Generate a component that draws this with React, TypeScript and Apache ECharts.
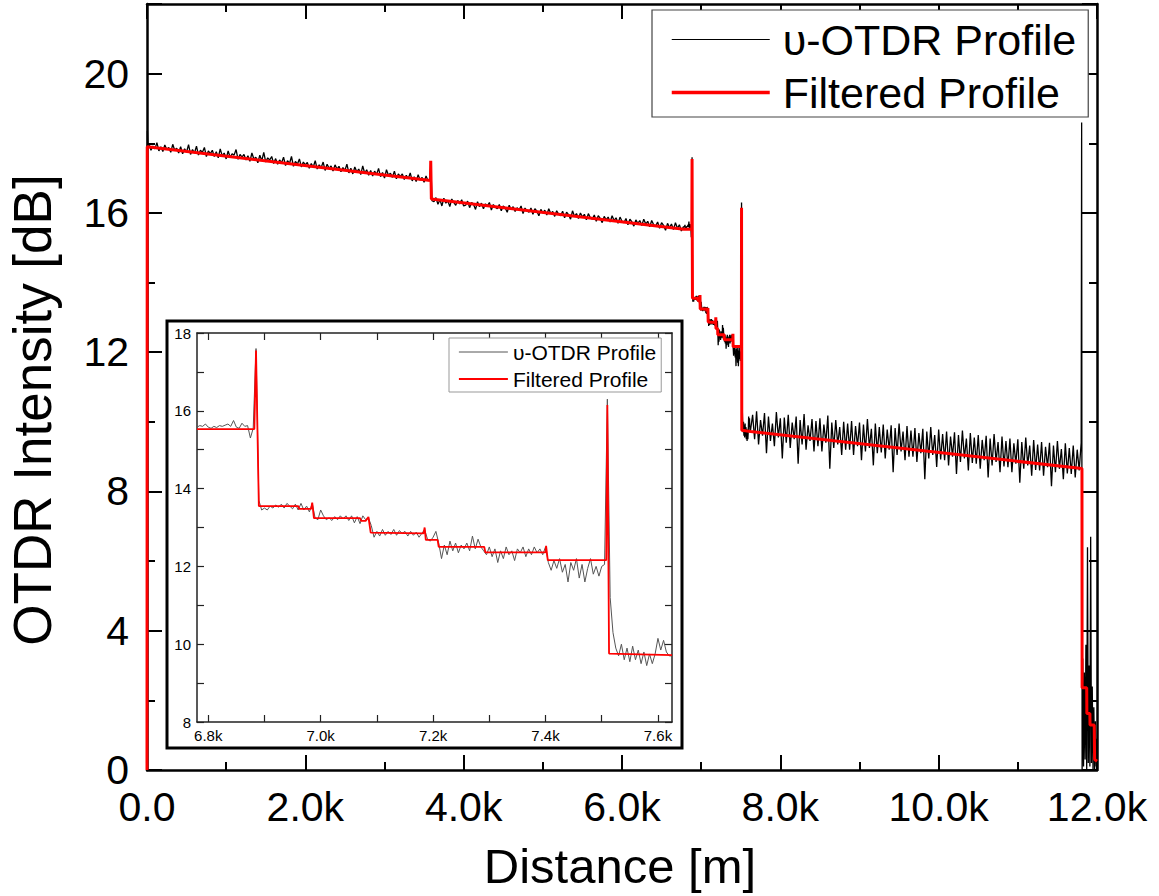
import React, { useEffect, useRef } from 'react';
import * as echarts from 'echarts';

// ---------- Data ----------
// Main trace, segment A: start 25 m, step 25 m
const SEG_A_START = 25;
const SEG_A_STEP = 25;
const SEG_A_VALUES = [
  17.98, 17.80, 17.92, 17.84, 18.02, 17.78, 17.90, 17.76, 17.95, 17.82, 17.88, 17.74, 17.97, 17.80, 17.86, 17.72,
  17.90, 17.70, 17.84, 17.75, 17.96, 17.68, 17.82, 17.72, 17.92, 17.66, 17.80, 17.74, 17.88, 17.62, 17.78, 17.70,
  17.80, 17.62, 17.76, 17.58, 17.84, 17.64, 17.72, 17.55, 17.78, 17.60, 17.70, 17.66, 17.82, 17.54, 17.68, 17.60,
  17.68, 17.52, 17.64, 17.48, 17.72, 17.55, 17.60, 17.44, 17.66, 17.50, 17.74, 17.46, 17.58, 17.52, 17.62, 17.42,
  17.56, 17.40, 17.52, 17.44, 17.60, 17.36, 17.50, 17.42, 17.62, 17.34, 17.48, 17.40, 17.55, 17.32, 17.46, 17.38,
  17.45, 17.28, 17.42, 17.32, 17.50, 17.26, 17.38, 17.30, 17.46, 17.22, 17.40, 17.28, 17.35, 17.20, 17.38, 17.26,
  17.34, 17.18, 17.30, 17.22, 17.40, 17.15, 17.28, 17.12, 17.32, 17.18, 17.26, 17.10, 17.35, 17.14, 17.24, 17.08,
  17.22, 17.06, 17.20, 17.10, 17.28, 17.04, 17.16, 17.00, 17.24, 17.08, 17.14, 17.02, 17.20, 16.98, 17.12, 17.04,
  17.12, 16.96, 17.08, 16.98, 17.15, 16.92, 17.04, 16.90, 17.10, 16.94, 17.02, 16.88, 17.06, 16.92, 16.98,
];
// Segment B: start 3625 m, step 25 m
const SEG_B_START = 3625;
const SEG_B_STEP = 25;
const SEG_B_VALUES = [
  16.32, 16.44, 16.25, 16.38, 16.20, 16.42, 16.28, 16.35, 16.18, 16.40, 16.30, 16.22, 16.36, 16.26, 16.38, 16.20,
  16.22, 16.34, 16.15, 16.30, 16.24, 16.10, 16.32, 16.18, 16.28, 16.12, 16.26, 16.20, 16.30, 16.08, 16.24, 16.16,
  16.12, 16.24, 16.06, 16.20, 16.14, 16.02, 16.22, 16.10, 16.18, 16.04, 16.15, 16.08, 16.20, 15.98, 16.14, 16.06,
  16.02, 16.14, 15.96, 16.12, 16.05, 15.92, 16.10, 16.00, 16.08, 15.94, 16.12, 15.98, 16.04, 15.90, 16.06, 15.96,
  15.92, 16.05, 15.86, 16.02, 15.95, 15.82, 16.06, 15.90, 15.98, 15.84, 16.00, 15.88, 15.96, 15.80, 15.98, 15.86,
  15.82, 15.94, 15.76, 15.92, 15.84, 15.72, 15.90, 15.80, 15.88, 15.74, 15.92, 15.78, 15.86, 15.70, 15.88, 15.76,
  15.72, 15.84, 15.66, 15.82, 15.74, 15.62, 15.80, 15.70, 15.78, 15.64, 15.82, 15.68, 15.76, 15.60, 15.78, 15.66,
  15.62, 15.74, 15.56, 15.72, 15.64, 15.50, 15.70, 15.58, 15.68, 15.52, 15.72, 15.56, 15.66, 15.48, 15.60,
];
// Detailed section (also shown in the inset): start 6780 m, step 5 m
const DETAIL_START = 6780;
const DETAIL_STEP = 5;
const DETAIL_VALUES = [
  15.58, 15.62, 15.60, 15.66, 15.58, 15.55, 15.60, 15.57, 15.62, 15.60,
  15.63, 15.66, 15.60, 15.75, 15.58, 15.55, 15.68, 15.60, 15.62, 15.30,
  15.55, 17.60, 13.70, 13.45, 13.50, 13.45, 13.55, 13.50, 13.58, 13.52,
  13.60, 13.50, 13.62, 13.55, 13.48, 13.60, 13.45, 13.62, 13.45, 13.55,
  13.40, 13.62, 13.25, 13.20, 13.45, 13.30, 13.20, 13.25, 13.18, 13.28,
  13.20, 13.30, 13.22, 13.30, 13.18, 13.30, 13.12, 13.28, 13.10, 13.30,
  13.20, 13.25, 13.05, 12.75, 12.90, 12.78, 12.95, 12.80, 12.90, 12.82,
  12.95, 12.80, 12.92, 12.85, 12.90, 12.78, 12.90, 12.80, 12.88, 12.75,
  12.85, 12.95, 12.70, 12.65, 12.75, 12.90, 12.60, 12.20, 12.55, 12.30,
  12.65, 12.40, 12.60, 12.35, 12.55, 12.45, 12.60, 12.40, 12.78, 12.45,
  12.70, 12.50, 12.40, 12.30, 12.50, 12.25, 12.45, 12.10, 12.40, 12.20,
  12.50, 12.30, 12.40, 12.15, 12.45, 12.35, 12.50, 12.25, 12.45, 12.30,
  12.50, 12.35, 12.45, 12.30, 12.50, 12.10, 11.90, 12.15, 11.95, 12.20,
  11.85, 12.05, 11.60, 12.10, 11.90, 12.20, 11.70, 12.05, 11.60, 11.95,
  12.20, 11.80, 12.00, 11.75, 12.00, 12.05, 16.30, 11.20, 10.30, 9.90,
  9.70, 10.00, 9.60, 9.90, 9.55, 9.95, 9.60, 9.85, 9.50, 9.80,
  9.45, 9.75, 9.50, 9.75, 10.15, 9.85, 10.10, 9.80, 9.70, 9.70,
];
// Segment D: start 7650 m, step 25 m
const SEG_D_START = 7650;
const SEG_D_STEP = 25;
const SEG_D_VALUES = [
  10.20, 9.50, 10.30, 9.35, 10.05, 9.60, 10.25, 9.10, 10.15, 9.45, 9.95, 9.30, 10.28, 9.55, 10.10, 8.95,
  10.12, 9.40, 10.20, 9.25, 9.98, 9.50, 10.15, 8.80, 10.05, 9.35, 10.22, 9.20, 9.90, 9.45, 10.08, 9.15,
  10.02, 9.30, 10.10, 9.15, 9.92, 9.40, 10.18, 8.65, 9.98, 9.25, 10.05, 9.35, 9.85, 9.05, 10.00, 9.20,
  9.95, 9.20, 10.02, 9.05, 9.88, 9.30, 9.98, 8.90, 9.92, 9.15, 10.08, 9.25, 9.80, 8.75, 9.95, 9.10,
  9.85, 9.12, 9.92, 8.95, 9.78, 9.20, 9.90, 8.55, 9.82, 9.05, 9.95, 9.15, 9.72, 8.90, 9.88, 9.00,
  9.75, 9.00, 9.82, 8.85, 9.68, 9.10, 9.80, 8.35, 9.72, 8.95, 9.85, 9.05, 9.62, 8.70, 9.78, 8.92,
  9.65, 8.90, 9.72, 8.75, 9.58, 9.00, 9.70, 8.50, 9.62, 8.85, 9.75, 8.95, 9.52, 8.60, 9.68, 8.82,
  9.55, 8.80, 9.62, 8.65, 9.48, 8.90, 9.60, 8.40, 9.52, 8.75, 9.65, 8.85, 9.42, 8.55, 9.58, 8.72,
  9.45, 8.70, 9.52, 8.55, 9.38, 8.80, 9.50, 8.25, 9.42, 8.65, 9.55, 8.75, 9.32, 8.45, 9.48, 8.62,
  9.35, 8.60, 9.42, 8.45, 9.28, 8.70, 9.40, 8.15, 9.32, 8.55, 9.45, 8.65, 9.22, 8.35, 9.38, 8.52,
  9.25, 8.50, 9.32, 8.40, 9.20, 8.60, 9.40,
];
// Fiber end: start 11820 m, step 10 m
const TAIL_START = 11820;
const TAIL_STEP = 10;
const TAIL_VALUES = [3.2, 0.1, 2.8, 0.3, 3.6, 0.0, 6.4, 0.2, 3.0, 0.1, 6.7, 0.2, 2.4, 0.0, 1.8, 0.0, 1.4, 0.1, 0.9];

const BLACK_HEAD: [number, number][] = [[0, 0], [5, 18.35], [12, 17.95]];
const BLACK_EVENT_1: [number, number][] = [[3585, 17.45], [3600, 16.35]];
const BLACK_EVENT_END: [number, number][] = [[11806, 18.6], [11812, 0]];

// Filtered (red) profile breakpoints
const FILTERED_HEAD: [number, number][] = [[0, 0], [3, 17.9], [3580, 16.93], [3584, 17.5], [3592, 16.4]];
const FILTERED_DETAIL: [number, number][] = [
  [6780, 15.53], [6882, 15.53], [6885, 17.55], [6890, 13.55], [6960, 13.55], [6962, 13.48],
  [6983, 13.48], [6985, 13.64], [6988, 13.24], [7070, 13.24], [7072, 13.17], [7080, 13.17],
  [7085, 13.27], [7089, 12.87], [7183, 12.85], [7185, 13.0], [7187, 12.68], [7208, 12.68],
  [7210, 12.5], [7291, 12.5], [7293, 12.36], [7400, 12.36], [7401, 12.53], [7404, 12.16],
  [7508, 12.16], [7510, 16.15], [7513, 9.76], [7625, 9.72],
];
const FILTERED_TAIL: [number, number][] = [
  [10350, 9.03], [11810, 8.66], [11812, 2.36], [11870, 2.36], [11872, 1.62], [11910, 1.62],
  [11912, 1.29], [11965, 1.29], [11970, 0.3], [12000, 0.25],
];

const INSET_X_TICKS = [6800, 6900, 7000, 7100, 7200, 7300, 7400, 7500, 7600];
const INSET_X_LABELS = [6800, 7000, 7200, 7400, 7600];

const NAME_RAW = 'υ-OTDR Profile';
const NAME_FILT = 'Filtered Profile';

const expand = (start: number, step: number, values: number[]): [number, number][] =>
  values.map((v, i) => [start + i * step, v]);

const detailBlack = expand(DETAIL_START, DETAIL_STEP, DETAIL_VALUES);
const mainBlack: [number, number][] = [
  ...BLACK_HEAD,
  ...expand(SEG_A_START, SEG_A_STEP, SEG_A_VALUES),
  ...BLACK_EVENT_1,
  ...expand(SEG_B_START, SEG_B_STEP, SEG_B_VALUES),
  ...detailBlack,
  ...expand(SEG_D_START, SEG_D_STEP, SEG_D_VALUES),
  ...BLACK_EVENT_END,
  ...expand(TAIL_START, TAIL_STEP, TAIL_VALUES),
];
const mainRed: [number, number][] = [...FILTERED_HEAD, ...FILTERED_DETAIL, ...FILTERED_TAIL];

const FONT = "'Liberation Sans', Arial, Helvetica, sans-serif";

const kFmt = (v: number) => (v === 0 ? '0.0' : (v / 1000).toFixed(1) + 'k');

export default function App() {
  const ref = useRef<HTMLDivElement>(null);
  useEffect(() => {
    if (!ref.current) return;
    const chart = echarts.init(ref.current, undefined, { renderer: 'svg' });
    const mainTick = { inside: true, length: 15, lineStyle: { color: '#000', width: 2 } };
    const mainMinor = { show: true, splitNumber: 2, length: 8, lineStyle: { color: '#000', width: 2 } };
    const mainLine = { onZero: false, lineStyle: { color: '#000', width: 2.5 } };
    const insetLine = { onZero: false, lineStyle: { color: '#222', width: 1.5 } };
    const insetTick = { inside: true, length: 7, lineStyle: { color: '#222', width: 1.2 } };
    const hiddenSymbol = { opacity: 0 };
    const option: any = {
      animation: false,
      backgroundColor: '#fff',
      grid: [
        { left: 147, top: 4, width: 950, height: 766 },
        { left: 197, top: 333, width: 475, height: 389 },
      ],
      xAxis: [
        {
          gridIndex: 0, type: 'value', min: 0, max: 12000, interval: 2000, position: 'bottom',
          axisLine: mainLine, axisTick: mainTick, minorTick: mainMinor,
          splitLine: { show: false },
          axisLabel: { fontSize: 41, fontFamily: FONT, color: '#000', margin: 16, formatter: kFmt },
        },
        {
          gridIndex: 0, type: 'value', min: 0, max: 12000, interval: 2000, position: 'top',
          axisLine: mainLine, axisTick: mainTick, minorTick: mainMinor,
          splitLine: { show: false }, axisLabel: { show: false },
        },
        {
          gridIndex: 1, type: 'value', min: 6780, max: 7625, position: 'bottom', z: 8,
          axisLine: insetLine, axisTick: { ...insetTick, customValues: INSET_X_TICKS },
          splitLine: { show: false },
          axisLabel: { customValues: INSET_X_LABELS, fontSize: 15, fontFamily: FONT, color: '#000', margin: 6, formatter: kFmt },
        },
        {
          gridIndex: 1, type: 'value', min: 6780, max: 7625, position: 'top', z: 8,
          axisLine: insetLine, axisTick: { ...insetTick, customValues: INSET_X_TICKS },
          splitLine: { show: false }, axisLabel: { show: false },
        },
      ],
      yAxis: [
        {
          gridIndex: 0, type: 'value', min: 0, max: 22, interval: 4, position: 'left',
          axisLine: mainLine, axisTick: mainTick, minorTick: mainMinor,
          splitLine: { show: false },
          axisLabel: {
            fontSize: 41, fontFamily: FONT, color: '#000', margin: 18,
            formatter: (v: number) => (v > 20 ? '' : String(v)),
          },
        },
        {
          gridIndex: 0, type: 'value', min: 0, max: 22, interval: 4, position: 'right',
          axisLine: mainLine, axisTick: mainTick, minorTick: mainMinor,
          splitLine: { show: false }, axisLabel: { show: false },
        },
        {
          gridIndex: 1, type: 'value', min: 8, max: 18, interval: 2, position: 'left', z: 8,
          axisLine: insetLine, axisTick: insetTick,
          minorTick: { show: true, splitNumber: 2, length: 7, lineStyle: { color: '#222', width: 1.2 } },
          splitLine: { show: false },
          axisLabel: { fontSize: 15, fontFamily: FONT, color: '#000', margin: 6 },
        },
        {
          gridIndex: 1, type: 'value', min: 8, max: 18, interval: 2, position: 'right', z: 8,
          axisLine: insetLine, axisTick: insetTick,
          minorTick: { show: true, splitNumber: 2, length: 7, lineStyle: { color: '#222', width: 1.2 } },
          splitLine: { show: false }, axisLabel: { show: false },
        },
      ],
      legend: [
        {
          orient: 'vertical', left: 652, top: 10, padding: [6, 12, 1, 18],
          itemWidth: 98, itemHeight: 12, itemGap: 6, selectedMode: false,
          borderColor: '#444', borderWidth: 1.2, backgroundColor: '#fff', z: 6,
          textStyle: { fontSize: 43, lineHeight: 47, fontFamily: FONT, color: '#000', padding: [0, 0, 0, 8] },
          data: [
            { name: NAME_RAW, lineStyle: { color: '#000', width: 1.2 }, itemStyle: hiddenSymbol },
            { name: NAME_FILT, lineStyle: { color: '#ff0000', width: 3.5 }, itemStyle: hiddenSymbol },
          ],
        },
        {
          orient: 'vertical', left: 449, top: 338, padding: [2, 5, 1, 9],
          itemWidth: 49, itemHeight: 8, itemGap: 3, selectedMode: false,
          borderColor: '#999', borderWidth: 1, backgroundColor: '#fff', z: 12,
          textStyle: { fontSize: 21, lineHeight: 24, fontFamily: FONT, color: '#000' },
          data: [
            { name: NAME_RAW, lineStyle: { color: '#555', width: 1 }, itemStyle: hiddenSymbol },
            { name: NAME_FILT, lineStyle: { color: '#ff0000', width: 1.8 }, itemStyle: hiddenSymbol },
          ],
        },
      ],
      graphic: [
        {
          type: 'rect', z: 5,
          shape: { x: 167, y: 321, width: 515, height: 427 },
          style: { fill: '#fff', stroke: '#000', lineWidth: 3 },
        },
        {
          type: 'text', z: 20, x: 620, y: 866,
          style: {
            text: 'Distance [m]', font: `49px ${FONT}`, fill: '#000',
            textAlign: 'center', textVerticalAlign: 'middle', align: 'center', verticalAlign: 'middle',
          },
        },
        {
          type: 'text', z: 20, x: 32, y: 410, rotation: Math.PI / 2,
          style: {
            text: 'OTDR Intensity [dB]', font: `53px ${FONT}`, fill: '#000',
            textAlign: 'center', textVerticalAlign: 'middle', align: 'center', verticalAlign: 'middle',
          },
        },
      ],
      series: [
        {
          name: NAME_RAW, type: 'line', xAxisIndex: 0, yAxisIndex: 0, data: mainBlack,
          symbol: 'none', z: 2, lineStyle: { color: '#000', width: 1.3 }, itemStyle: { color: '#000' },
        },
        {
          name: NAME_FILT, type: 'line', xAxisIndex: 0, yAxisIndex: 0, data: mainRed,
          symbol: 'none', z: 3, lineStyle: { color: '#ff0000', width: 3 }, itemStyle: { color: '#ff0000' },
        },
        {
          name: NAME_RAW, type: 'line', xAxisIndex: 2, yAxisIndex: 2, data: detailBlack,
          symbol: 'none', z: 9, lineStyle: { color: '#555', width: 1 }, itemStyle: { color: '#555' },
        },
        {
          name: NAME_FILT, type: 'line', xAxisIndex: 2, yAxisIndex: 2, data: FILTERED_DETAIL,
          symbol: 'none', z: 10, lineStyle: { color: '#ff0000', width: 1.8 }, itemStyle: { color: '#ff0000' },
        },
      ],
    };
    chart.setOption(option);
    return () => chart.dispose();
  }, []);
  return (
    <div
      ref={ref}
      style={{ position: 'fixed', left: 0, top: 0, width: 1159, height: 896, background: '#fff' }}
    />
  );
}
